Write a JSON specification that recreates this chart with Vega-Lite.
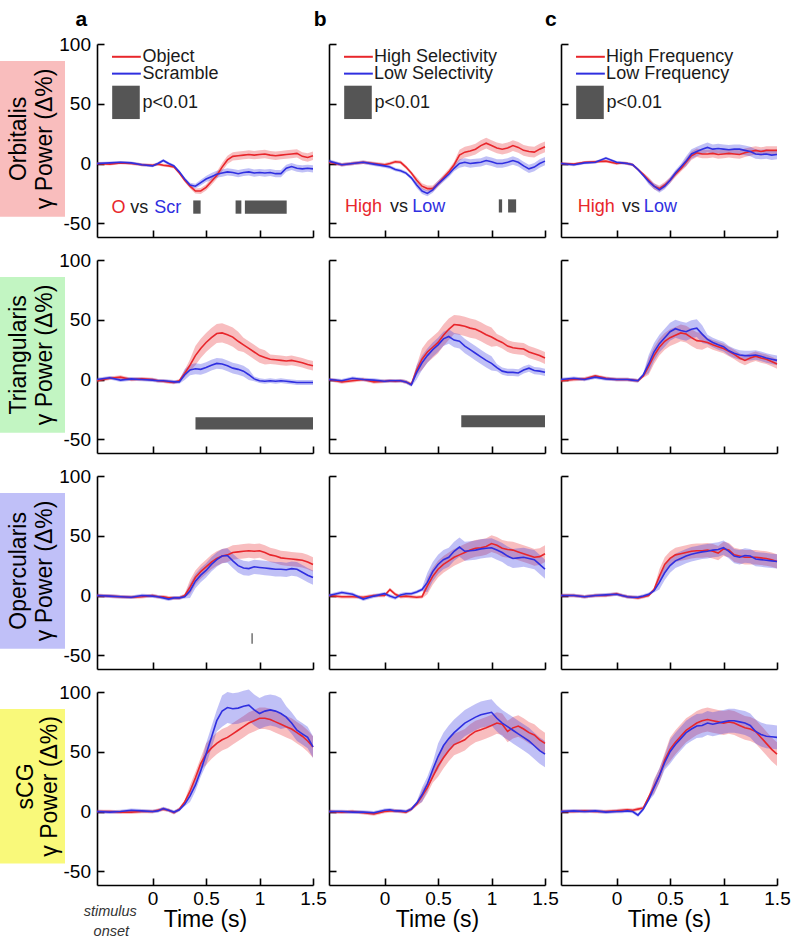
{
"$schema":"https://vega.github.io/schema/vega-lite/v6.json",
"padding":{"left":0,"top":8,"right":5,"bottom":0},
"config":{"view":{"stroke":null},"font":"Liberation Sans",
"axis":{"domainColor":"#000","domainWidth":1.6,"tickColor":"#000","tickWidth":1.6,"tickSize":-7,"labelFont":"Liberation Sans","labelFontSize":19,"labelColor":"#000","labelFlush":false,"labelOverlap":false,"labelBound":false,"titleFont":"Liberation Sans","titleFontSize":23,"titleFontWeight":"normal","titleColor":"#000","titlePadding":0,"grid":false},
"axisX":{"labelPadding":11},"axisY":{"labelPadding":13.5}},
"datasets":{
"lab":[{"r":1,"n":"Orbitalis","g":"γ Power (Δ%)"},{"r":2,"n":"Triangularis","g":"γ Power (Δ%)"},{"r":3,"n":"Opercularis","g":"γ Power (Δ%)"},{"r":4,"n":"sCG","g":"γ Power (Δ%)"}],
"sig":[
{"p":"a1","t":-0.378,"t2":-0.12,"v":37.2,"v2":65.1},{"p":"b1","t":-0.378,"t2":-0.12,"v":37.2,"v2":65.1},{"p":"c1","t":-0.378,"t2":-0.12,"v":37.2,"v2":65.1},
{"p":"a1","t":0.38,"t2":0.449,"v":-42,"v2":-30.9},{"p":"a1","t":0.776,"t2":0.83,"v":-42,"v2":-30.9},{"p":"a1","t":0.863,"t2":1.254,"v":-42,"v2":-30.9},
{"p":"b1","t":1.068,"t2":1.099,"v":-41,"v2":-30},{"p":"b1","t":1.155,"t2":1.23,"v":-41,"v2":-30},
{"p":"a2","t":0.401,"t2":1.5,"v":-41.8,"v2":-31.5},
{"p":"b2","t":0.717,"t2":1.5,"v":-40,"v2":-29.9},
{"p":"a3","t":0.924,"t2":0.937,"v":-40.4,"v2":-31.5}],
"ann":[
{"p":"a1","k":"H","s":"K","t":-0.667,"v":115.3,"txt":"a"},{"p":"b1","k":"H","s":"K","t":-0.602,"v":115.3,"txt":"b"},{"p":"c1","k":"H","s":"K","t":-0.614,"v":115.3,"txt":"c"},
{"p":"a1","k":"L","s":"R","t":-0.38,"t2":-0.11,"v":89.3},{"p":"a1","k":"L","s":"B","t":-0.38,"t2":-0.11,"v":75.2},
{"p":"b1","k":"L","s":"R","t":-0.38,"t2":-0.11,"v":89.3},{"p":"b1","k":"L","s":"B","t":-0.38,"t2":-0.11,"v":75.2},
{"p":"c1","k":"L","s":"R","t":-0.38,"t2":-0.11,"v":89.3},{"p":"c1","k":"L","s":"B","t":-0.38,"t2":-0.11,"v":75.2},
{"p":"a1","k":"T","s":"K","t":-0.095,"v":89,"txt":"Object"},{"p":"a1","k":"T","s":"K","t":-0.095,"v":74.6,"txt":"Scramble"},{"p":"a1","k":"T","s":"K","t":-0.095,"v":51,"txt":"p<0.01"},
{"p":"a1","k":"T","s":"R","t":-0.385,"v":-37.5,"txt":"O"},{"p":"a1","k":"T","s":"K","t":-0.21,"v":-37.5,"txt":"vs"},{"p":"a1","k":"T","s":"B","t":0.015,"v":-37.5,"txt":"Scr"},
{"p":"b1","k":"T","s":"K","t":-0.1,"v":89,"txt":"High Selectivity"},{"p":"b1","k":"T","s":"K","t":-0.1,"v":74.6,"txt":"Low Selectivity"},{"p":"b1","k":"T","s":"K","t":-0.095,"v":51,"txt":"p<0.01"},
{"p":"b1","k":"T","s":"R","t":-0.37,"v":-36.5,"txt":"High"},{"p":"b1","k":"T","s":"K","t":0.05,"v":-36.5,"txt":"vs"},{"p":"b1","k":"T","s":"B","t":0.258,"v":-36.5,"txt":"Low"},
{"p":"c1","k":"T","s":"K","t":-0.098,"v":89,"txt":"High Frequency"},{"p":"c1","k":"T","s":"K","t":-0.098,"v":74.6,"txt":"Low Frequency"},{"p":"c1","k":"T","s":"K","t":-0.095,"v":51,"txt":"p<0.01"},
{"p":"c1","k":"T","s":"R","t":-0.364,"v":-36.5,"txt":"High"},{"p":"c1","k":"T","s":"K","t":0.05,"v":-36.5,"txt":"vs"},{"p":"c1","k":"T","s":"B","t":0.255,"v":-36.5,"txt":"Low"},
{"p":"a4","k":"I","s":"K","t":-0.396,"v":-84.3,"txt":"stimulus"},{"p":"a4","k":"I","s":"K","t":-0.386,"v":-101,"txt":"onset"}],
"d":[
{"p":"a1","t":-0.52,"r":0,"re":1.2,"b":0,"be":1.2},{"p":"a1","t":-0.4,"r":-0.5,"re":1.2,"b":0.5,"be":1.2},{"p":"a1","t":-0.3,"r":0.5,"re":1.2,"b":1,"be":1.2},{"p":"a1","t":-0.2,"r":0,"re":1.2,"b":0.5,"be":1.2},{"p":"a1","t":-0.1,"r":-1,"re":1.2,"b":-1,"be":1.2},{"p":"a1","t":0,"r":-1.5,"re":1.2,"b":-2,"be":1.2},{"p":"a1","t":0.05,"r":-0.5,"re":1.2,"b":0,"be":1.2},{"p":"a1","t":0.1,"r":-1.5,"re":1.2,"b":2.5,"be":1.2},{"p":"a1","t":0.15,"r":-2,"re":1.2,"b":0,"be":1.2},{"p":"a1","t":0.2,"r":-3,"re":1.2,"b":-2,"be":1.2},{"p":"a1","t":0.25,"r":-8,"re":1.2,"b":-7,"be":1.2},{"p":"a1","t":0.3,"r":-14,"re":1.5,"b":-13,"be":1.5},{"p":"a1","t":0.35,"r":-19,"re":2,"b":-18,"be":2},{"p":"a1","t":0.4,"r":-23,"re":2,"b":-19,"be":2},{"p":"a1","t":0.45,"r":-23,"re":2.5,"b":-16,"be":2.5},{"p":"a1","t":0.5,"r":-20,"re":2.5,"b":-13,"be":2.5},{"p":"a1","t":0.55,"r":-15,"re":3,"b":-11,"be":3},{"p":"a1","t":0.6,"r":-10,"re":3,"b":-9,"be":3},{"p":"a1","t":0.65,"r":-3,"re":3.5,"b":-8,"be":3},{"p":"a1","t":0.7,"r":3,"re":3.5,"b":-7,"be":3},{"p":"a1","t":0.75,"r":6,"re":3.5,"b":-7.5,"be":3},{"p":"a1","t":0.8,"r":6.5,"re":3.5,"b":-8.5,"be":3},{"p":"a1","t":0.85,"r":7,"re":3.5,"b":-7.5,"be":3},{"p":"a1","t":0.9,"r":7.5,"re":3.5,"b":-7,"be":3},{"p":"a1","t":0.95,"r":7,"re":3.5,"b":-8,"be":3},{"p":"a1","t":1,"r":7.5,"re":3.5,"b":-7.5,"be":3},{"p":"a1","t":1.05,"r":8,"re":3.5,"b":-8,"be":3},{"p":"a1","t":1.1,"r":7,"re":3.5,"b":-7.5,"be":3},{"p":"a1","t":1.15,"r":6.5,"re":3.5,"b":-8.5,"be":3},{"p":"a1","t":1.2,"r":7,"re":3.5,"b":-8.5,"be":3},{"p":"a1","t":1.25,"r":7.5,"re":3.5,"b":-4,"be":3},{"p":"a1","t":1.3,"r":8,"re":3.5,"b":-2.5,"be":3},{"p":"a1","t":1.35,"r":8.5,"re":3.5,"b":-4,"be":3},{"p":"a1","t":1.4,"r":6,"re":3.5,"b":-4.5,"be":3},{"p":"a1","t":1.45,"r":5,"re":3.5,"b":-4,"be":3},{"p":"a1","t":1.5,"r":6.5,"re":3.5,"b":-4.5,"be":3},
{"p":"b1","t":-0.52,"r":1,"re":1.5,"b":2,"be":1.5},{"p":"b1","t":-0.4,"r":-1,"re":1.5,"b":-1,"be":1.5},{"p":"b1","t":-0.3,"r":0,"re":1.5,"b":0,"be":1.5},{"p":"b1","t":-0.2,"r":1,"re":1.5,"b":1,"be":1.5},{"p":"b1","t":-0.1,"r":0,"re":1.5,"b":-0.5,"be":1.5},{"p":"b1","t":0,"r":-1,"re":1.5,"b":-2,"be":1.5},{"p":"b1","t":0.05,"r":0,"re":1.5,"b":-3,"be":1.5},{"p":"b1","t":0.1,"r":1.5,"re":1.5,"b":-5,"be":1.5},{"p":"b1","t":0.15,"r":1,"re":1.5,"b":-6,"be":1.5},{"p":"b1","t":0.2,"r":-3,"re":1.5,"b":-8,"be":1.5},{"p":"b1","t":0.25,"r":-8,"re":1.5,"b":-12,"be":1.5},{"p":"b1","t":0.3,"r":-14,"re":2.5,"b":-18,"be":2.5},{"p":"b1","t":0.35,"r":-19,"re":2.5,"b":-23,"be":2.5},{"p":"b1","t":0.4,"r":-21,"re":2.5,"b":-25,"be":2.5},{"p":"b1","t":0.45,"r":-21,"re":2.5,"b":-22,"be":2.5},{"p":"b1","t":0.5,"r":-17,"re":2.5,"b":-17,"be":2.5},{"p":"b1","t":0.55,"r":-12,"re":2.5,"b":-13,"be":2.5},{"p":"b1","t":0.6,"r":-7,"re":2.5,"b":-9,"be":2.5},{"p":"b1","t":0.65,"r":-1,"re":2.5,"b":-4,"be":2.5},{"p":"b1","t":0.7,"r":7,"re":4.5,"b":0,"be":3.5},{"p":"b1","t":0.75,"r":9.5,"re":4.5,"b":1,"be":3.5},{"p":"b1","t":0.8,"r":10.5,"re":4.5,"b":0,"be":3.5},{"p":"b1","t":0.85,"r":12,"re":4.5,"b":0.5,"be":3.5},{"p":"b1","t":0.9,"r":15,"re":4.5,"b":1,"be":3.5},{"p":"b1","t":0.95,"r":17,"re":4.5,"b":2.5,"be":3.5},{"p":"b1","t":1,"r":15,"re":4.5,"b":1.5,"be":3.5},{"p":"b1","t":1.05,"r":13,"re":4.5,"b":0,"be":3.5},{"p":"b1","t":1.1,"r":12,"re":4.5,"b":0,"be":3.5},{"p":"b1","t":1.15,"r":13,"re":4.5,"b":1,"be":3.5},{"p":"b1","t":1.2,"r":15,"re":4.5,"b":2.5,"be":3.5},{"p":"b1","t":1.25,"r":13.5,"re":4.5,"b":1,"be":3.5},{"p":"b1","t":1.3,"r":11,"re":4.5,"b":-2,"be":3.5},{"p":"b1","t":1.35,"r":10,"re":4.5,"b":-4.5,"be":3.5},{"p":"b1","t":1.4,"r":9.5,"re":4.5,"b":-3,"be":3.5},{"p":"b1","t":1.45,"r":12,"re":4.5,"b":0,"be":3.5},{"p":"b1","t":1.5,"r":14,"re":4.5,"b":2,"be":3.5},
{"p":"c1","t":-0.52,"r":0,"re":1.2,"b":0,"be":1.2},{"p":"c1","t":-0.4,"r":-0.5,"re":1.2,"b":-1,"be":1.2},{"p":"c1","t":-0.3,"r":1,"re":1.2,"b":0.5,"be":1.2},{"p":"c1","t":-0.2,"r":1.5,"re":1.2,"b":1,"be":1.2},{"p":"c1","t":-0.1,"r":2,"re":1.2,"b":4.5,"be":1.2},{"p":"c1","t":0,"r":0,"re":1.2,"b":1,"be":1.2},{"p":"c1","t":0.05,"r":0.5,"re":1.2,"b":0.5,"be":1.2},{"p":"c1","t":0.1,"r":0,"re":1.2,"b":0,"be":1.2},{"p":"c1","t":0.15,"r":-1,"re":1.2,"b":-1,"be":1.2},{"p":"c1","t":0.2,"r":-5,"re":1.2,"b":-5,"be":1.2},{"p":"c1","t":0.25,"r":-9,"re":1.2,"b":-10,"be":1.2},{"p":"c1","t":0.3,"r":-14,"re":2.5,"b":-15,"be":2.5},{"p":"c1","t":0.35,"r":-19,"re":2.5,"b":-19,"be":2.5},{"p":"c1","t":0.4,"r":-21,"re":2.5,"b":-22,"be":2.5},{"p":"c1","t":0.45,"r":-18,"re":2.5,"b":-19,"be":2.5},{"p":"c1","t":0.5,"r":-14,"re":2.5,"b":-14,"be":2.5},{"p":"c1","t":0.55,"r":-9,"re":2.5,"b":-8,"be":2.5},{"p":"c1","t":0.6,"r":-4.5,"re":2.5,"b":-3,"be":2.5},{"p":"c1","t":0.65,"r":1,"re":3.5,"b":2,"be":4},{"p":"c1","t":0.7,"r":6.5,"re":3.5,"b":8,"be":4},{"p":"c1","t":0.75,"r":9,"re":3.5,"b":10,"be":4},{"p":"c1","t":0.8,"r":8,"re":3.5,"b":12,"be":4},{"p":"c1","t":0.85,"r":8,"re":3.5,"b":13.5,"be":4},{"p":"c1","t":0.9,"r":8.5,"re":3.5,"b":12,"be":4},{"p":"c1","t":0.95,"r":7.5,"re":3.5,"b":12.5,"be":4},{"p":"c1","t":1,"r":8,"re":3.5,"b":12,"be":4},{"p":"c1","t":1.05,"r":8.5,"re":3.5,"b":11.5,"be":4},{"p":"c1","t":1.1,"r":8,"re":3.5,"b":12,"be":4},{"p":"c1","t":1.15,"r":7.5,"re":3.5,"b":12,"be":4},{"p":"c1","t":1.2,"r":9,"re":3.5,"b":11,"be":4},{"p":"c1","t":1.25,"r":10,"re":3.5,"b":10,"be":4},{"p":"c1","t":1.3,"r":11,"re":3.5,"b":8,"be":4},{"p":"c1","t":1.35,"r":10,"re":3.5,"b":7.5,"be":4},{"p":"c1","t":1.4,"r":11,"re":3.5,"b":8,"be":4},{"p":"c1","t":1.45,"r":11,"re":3.5,"b":7,"be":4},{"p":"c1","t":1.5,"r":11,"re":3.5,"b":7.5,"be":4},
{"p":"a2","t":-0.52,"r":-1,"re":1.5,"b":0,"be":1.5},{"p":"a2","t":-0.4,"r":1,"re":1.5,"b":1.5,"be":1.5},{"p":"a2","t":-0.3,"r":2,"re":1.5,"b":-0.5,"be":1.5},{"p":"a2","t":-0.2,"r":0,"re":1.5,"b":0.5,"be":1.5},{"p":"a2","t":-0.1,"r":0.5,"re":1.5,"b":0,"be":1.5},{"p":"a2","t":0,"r":0,"re":1.5,"b":-0.5,"be":1.5},{"p":"a2","t":0.05,"r":-1,"re":1.5,"b":-1,"be":1.5},{"p":"a2","t":0.1,"r":-1.5,"re":1.5,"b":-1,"be":1.5},{"p":"a2","t":0.15,"r":-2,"re":1.5,"b":-1.5,"be":1.5},{"p":"a2","t":0.2,"r":-2.5,"re":1.5,"b":-2,"be":1.5},{"p":"a2","t":0.25,"r":-1,"re":1.5,"b":-2,"be":1.5},{"p":"a2","t":0.3,"r":5,"re":3,"b":4,"be":4.5},{"p":"a2","t":0.35,"r":12,"re":5,"b":8,"be":4.5},{"p":"a2","t":0.4,"r":20,"re":8,"b":9,"be":4.5},{"p":"a2","t":0.45,"r":26,"re":8,"b":8.5,"be":4.5},{"p":"a2","t":0.5,"r":31,"re":8,"b":10,"be":4.5},{"p":"a2","t":0.55,"r":35,"re":8,"b":12,"be":4.5},{"p":"a2","t":0.6,"r":38.5,"re":8,"b":13.5,"be":4.5},{"p":"a2","t":0.65,"r":39,"re":8,"b":13,"be":4.5},{"p":"a2","t":0.7,"r":37.5,"re":8,"b":11.5,"be":4.5},{"p":"a2","t":0.75,"r":35.5,"re":8,"b":9.5,"be":4.5},{"p":"a2","t":0.8,"r":32,"re":8,"b":8.5,"be":4.5},{"p":"a2","t":0.85,"r":29,"re":6,"b":7,"be":4.5},{"p":"a2","t":0.9,"r":26,"re":6,"b":4,"be":4.5},{"p":"a2","t":0.95,"r":23,"re":6,"b":0.5,"be":2},{"p":"a2","t":1,"r":20,"re":6,"b":-1,"be":2},{"p":"a2","t":1.05,"r":18.5,"re":6,"b":-1.5,"be":2},{"p":"a2","t":1.1,"r":17,"re":4,"b":-1,"be":2},{"p":"a2","t":1.15,"r":16.5,"re":4,"b":-1.5,"be":2},{"p":"a2","t":1.2,"r":16,"re":4,"b":-1,"be":2},{"p":"a2","t":1.25,"r":15.5,"re":4,"b":-1.5,"be":2},{"p":"a2","t":1.3,"r":16,"re":4,"b":-2,"be":2},{"p":"a2","t":1.35,"r":15,"re":4,"b":-2.5,"be":2},{"p":"a2","t":1.4,"r":14,"re":4,"b":-2.5,"be":2},{"p":"a2","t":1.45,"r":12.5,"re":4,"b":-2.5,"be":2},{"p":"a2","t":1.5,"r":11.5,"re":4,"b":-2.5,"be":2},
{"p":"b2","t":-0.52,"r":0,"re":1.5,"b":0,"be":1.5},{"p":"b2","t":-0.4,"r":-2,"re":1.5,"b":-1,"be":1.5},{"p":"b2","t":-0.3,"r":-1,"re":1.5,"b":1,"be":1.5},{"p":"b2","t":-0.2,"r":0,"re":1.5,"b":0,"be":1.5},{"p":"b2","t":-0.1,"r":-2,"re":1.5,"b":-0.5,"be":1.5},{"p":"b2","t":0,"r":-1.5,"re":1.5,"b":-1.5,"be":1.5},{"p":"b2","t":0.05,"r":-1,"re":1.5,"b":-1,"be":1.5},{"p":"b2","t":0.1,"r":-1.5,"re":1.5,"b":-1,"be":1.5},{"p":"b2","t":0.15,"r":-1,"re":1.5,"b":-1,"be":1.5},{"p":"b2","t":0.2,"r":-2,"re":1.5,"b":-2,"be":1.5},{"p":"b2","t":0.25,"r":-4,"re":1.5,"b":-4.5,"be":1.5},{"p":"b2","t":0.3,"r":8,"re":4,"b":6,"be":6},{"p":"b2","t":0.35,"r":17,"re":9,"b":14,"be":6},{"p":"b2","t":0.4,"r":23,"re":9,"b":20,"be":6},{"p":"b2","t":0.45,"r":27,"re":9,"b":25,"be":6},{"p":"b2","t":0.5,"r":31,"re":9,"b":29,"be":6},{"p":"b2","t":0.55,"r":37,"re":9,"b":34,"be":6},{"p":"b2","t":0.6,"r":42,"re":9,"b":36,"be":6},{"p":"b2","t":0.65,"r":46,"re":8,"b":33,"be":6},{"p":"b2","t":0.7,"r":45.5,"re":8,"b":32,"be":6},{"p":"b2","t":0.75,"r":44.5,"re":8,"b":28,"be":6},{"p":"b2","t":0.8,"r":43,"re":8,"b":25,"be":6},{"p":"b2","t":0.85,"r":42,"re":8,"b":22,"be":6},{"p":"b2","t":0.9,"r":40,"re":8,"b":19,"be":6},{"p":"b2","t":0.95,"r":37.5,"re":8,"b":16,"be":6},{"p":"b2","t":1,"r":35.5,"re":8,"b":13.5,"be":6},{"p":"b2","t":1.05,"r":33,"re":5,"b":10,"be":3},{"p":"b2","t":1.1,"r":31,"re":5,"b":7,"be":3},{"p":"b2","t":1.15,"r":28,"re":5,"b":6,"be":3},{"p":"b2","t":1.2,"r":26.5,"re":5,"b":6,"be":3},{"p":"b2","t":1.25,"r":26,"re":5,"b":5.5,"be":3},{"p":"b2","t":1.3,"r":25.5,"re":5,"b":8,"be":3},{"p":"b2","t":1.35,"r":23,"re":5,"b":9.5,"be":3},{"p":"b2","t":1.4,"r":21.5,"re":5,"b":7.5,"be":3},{"p":"b2","t":1.45,"r":20,"re":5,"b":7,"be":3},{"p":"b2","t":1.5,"r":18,"re":5,"b":6,"be":3},
{"p":"c2","t":-0.52,"r":-1,"re":1.5,"b":0,"be":1.5},{"p":"c2","t":-0.4,"r":0,"re":1.5,"b":1,"be":1.5},{"p":"c2","t":-0.3,"r":0.5,"re":1.5,"b":0,"be":1.5},{"p":"c2","t":-0.2,"r":3,"re":1.5,"b":2,"be":1.5},{"p":"c2","t":-0.1,"r":1,"re":1.5,"b":0.5,"be":1.5},{"p":"c2","t":0,"r":0,"re":1.5,"b":0,"be":1.5},{"p":"c2","t":0.05,"r":0,"re":1.5,"b":0,"be":1.5},{"p":"c2","t":0.1,"r":0,"re":1.5,"b":0,"be":1.5},{"p":"c2","t":0.15,"r":-0.5,"re":1.5,"b":-0.5,"be":1.5},{"p":"c2","t":0.2,"r":-1,"re":1.5,"b":-1,"be":1.5},{"p":"c2","t":0.25,"r":3,"re":1.5,"b":4,"be":1.5},{"p":"c2","t":0.3,"r":11,"re":7,"b":13,"be":7.5},{"p":"c2","t":0.35,"r":20,"re":7,"b":23,"be":7.5},{"p":"c2","t":0.4,"r":27,"re":7,"b":30,"be":7.5},{"p":"c2","t":0.45,"r":32,"re":7,"b":35,"be":7.5},{"p":"c2","t":0.5,"r":35,"re":7,"b":40,"be":7.5},{"p":"c2","t":0.55,"r":37,"re":7,"b":42.5,"be":7.5},{"p":"c2","t":0.6,"r":39,"re":7,"b":41,"be":7.5},{"p":"c2","t":0.65,"r":38,"re":7,"b":40,"be":7.5},{"p":"c2","t":0.7,"r":35,"re":7,"b":42,"be":7.5},{"p":"c2","t":0.75,"r":32.5,"re":7,"b":43,"be":7.5},{"p":"c2","t":0.8,"r":32,"re":7,"b":38,"be":7.5},{"p":"c2","t":0.85,"r":31,"re":4,"b":33.5,"be":4},{"p":"c2","t":0.9,"r":29,"re":4,"b":31,"be":4},{"p":"c2","t":0.95,"r":27.5,"re":4,"b":29,"be":4},{"p":"c2","t":1,"r":26,"re":4,"b":27.5,"be":4},{"p":"c2","t":1.05,"r":23.5,"re":4,"b":24,"be":4},{"p":"c2","t":1.1,"r":21,"re":4,"b":22,"be":4},{"p":"c2","t":1.15,"r":18,"re":4,"b":20.5,"be":4},{"p":"c2","t":1.2,"r":16,"re":4,"b":20,"be":4},{"p":"c2","t":1.25,"r":18,"re":4,"b":20,"be":4},{"p":"c2","t":1.3,"r":19.5,"re":4,"b":20.5,"be":4},{"p":"c2","t":1.35,"r":18,"re":4,"b":19.5,"be":4},{"p":"c2","t":1.4,"r":17,"re":4,"b":18,"be":4},{"p":"c2","t":1.45,"r":15,"re":4,"b":17,"be":4},{"p":"c2","t":1.5,"r":13,"re":4,"b":16,"be":4},
{"p":"a3","t":-0.52,"r":0,"re":1.5,"b":0,"be":1.5},{"p":"a3","t":-0.4,"r":-0.5,"re":1.5,"b":-0.5,"be":1.5},{"p":"a3","t":-0.3,"r":-1,"re":1.5,"b":-1,"be":1.5},{"p":"a3","t":-0.2,"r":-1.5,"re":1.5,"b":-1.5,"be":1.5},{"p":"a3","t":-0.1,"r":-1,"re":1.5,"b":0,"be":1.5},{"p":"a3","t":0,"r":0,"re":1.5,"b":-0.5,"be":1.5},{"p":"a3","t":0.05,"r":-1,"re":1.5,"b":-1,"be":1.5},{"p":"a3","t":0.1,"r":-1,"re":1.5,"b":-2,"be":1.5},{"p":"a3","t":0.15,"r":-2,"re":1.5,"b":-3,"be":1.5},{"p":"a3","t":0.2,"r":-2,"re":1.5,"b":-2,"be":1.5},{"p":"a3","t":0.25,"r":-2,"re":1.5,"b":-2,"be":1.5},{"p":"a3","t":0.3,"r":0,"re":1.5,"b":-1,"be":1.5},{"p":"a3","t":0.35,"r":7,"re":6,"b":4,"be":6},{"p":"a3","t":0.4,"r":15,"re":6,"b":12,"be":6},{"p":"a3","t":0.45,"r":20,"re":6,"b":17,"be":6},{"p":"a3","t":0.5,"r":24,"re":6,"b":21,"be":6},{"p":"a3","t":0.55,"r":28,"re":6,"b":26,"be":6},{"p":"a3","t":0.6,"r":31,"re":6,"b":30,"be":6},{"p":"a3","t":0.65,"r":33,"re":6,"b":33,"be":6},{"p":"a3","t":0.7,"r":34,"re":6,"b":33.5,"be":6},{"p":"a3","t":0.75,"r":36,"re":6,"b":29,"be":6},{"p":"a3","t":0.8,"r":36.5,"re":6,"b":25,"be":6},{"p":"a3","t":0.85,"r":37,"re":6,"b":23,"be":6},{"p":"a3","t":0.9,"r":37.5,"re":6,"b":22.5,"be":6},{"p":"a3","t":0.95,"r":37,"re":6,"b":24,"be":6},{"p":"a3","t":1,"r":37.5,"re":6,"b":23.5,"be":6},{"p":"a3","t":1.05,"r":36,"re":6,"b":23,"be":6},{"p":"a3","t":1.1,"r":34,"re":6,"b":22.5,"be":6},{"p":"a3","t":1.15,"r":33,"re":6,"b":22,"be":6},{"p":"a3","t":1.2,"r":31.5,"re":6,"b":22,"be":6},{"p":"a3","t":1.25,"r":31,"re":6,"b":21.5,"be":6},{"p":"a3","t":1.3,"r":30.5,"re":6,"b":22.5,"be":6},{"p":"a3","t":1.35,"r":30,"re":6,"b":22,"be":6},{"p":"a3","t":1.4,"r":29.5,"re":6,"b":19.5,"be":6},{"p":"a3","t":1.45,"r":28,"re":6,"b":17,"be":6},{"p":"a3","t":1.5,"r":26,"re":6,"b":15,"be":6},
{"p":"b3","t":-0.52,"r":0,"re":1.5,"b":0,"be":1.5},{"p":"b3","t":-0.4,"r":-1,"re":1.5,"b":2.5,"be":1.5},{"p":"b3","t":-0.3,"r":-1,"re":1.5,"b":1,"be":1.5},{"p":"b3","t":-0.2,"r":-1.5,"re":1.5,"b":-3,"be":1.5},{"p":"b3","t":-0.1,"r":0,"re":1.5,"b":-0.5,"be":1.5},{"p":"b3","t":0,"r":0,"re":1.5,"b":1.5,"be":1.5},{"p":"b3","t":0.05,"r":5,"re":1.5,"b":-0.5,"be":1.5},{"p":"b3","t":0.1,"r":1,"re":1.5,"b":-2,"be":1.5},{"p":"b3","t":0.15,"r":-1,"re":1.5,"b":0.5,"be":1.5},{"p":"b3","t":0.2,"r":-0.5,"re":1.5,"b":1.5,"be":1.5},{"p":"b3","t":0.25,"r":-1,"re":1.5,"b":1.5,"be":1.5},{"p":"b3","t":0.3,"r":-1.5,"re":1.5,"b":3,"be":1.5},{"p":"b3","t":0.35,"r":-1,"re":1.5,"b":5,"be":1.5},{"p":"b3","t":0.4,"r":8,"re":7,"b":11,"be":8},{"p":"b3","t":0.45,"r":16,"re":7,"b":20,"be":8},{"p":"b3","t":0.5,"r":22,"re":7,"b":26,"be":8},{"p":"b3","t":0.55,"r":26,"re":7,"b":30,"be":8},{"p":"b3","t":0.6,"r":29,"re":7,"b":32,"be":8},{"p":"b3","t":0.65,"r":32,"re":7,"b":37,"be":8},{"p":"b3","t":0.7,"r":34,"re":7,"b":40.5,"be":8},{"p":"b3","t":0.75,"r":36,"re":7,"b":37,"be":8},{"p":"b3","t":0.8,"r":38,"re":7,"b":37.5,"be":8},{"p":"b3","t":0.85,"r":39.5,"re":7,"b":38,"be":8},{"p":"b3","t":0.9,"r":40,"re":7,"b":39,"be":8},{"p":"b3","t":0.95,"r":41,"re":7,"b":39.5,"be":8},{"p":"b3","t":1,"r":43.5,"re":7,"b":40,"be":8},{"p":"b3","t":1.05,"r":42,"re":7,"b":38,"be":8},{"p":"b3","t":1.1,"r":39.5,"re":7,"b":36,"be":8},{"p":"b3","t":1.15,"r":38.5,"re":7,"b":33,"be":8},{"p":"b3","t":1.2,"r":38,"re":7,"b":31,"be":8},{"p":"b3","t":1.25,"r":36.5,"re":7,"b":31.5,"be":8},{"p":"b3","t":1.3,"r":35,"re":7,"b":32,"be":8},{"p":"b3","t":1.35,"r":33.5,"re":7,"b":31,"be":8},{"p":"b3","t":1.4,"r":32,"re":7,"b":30,"be":8},{"p":"b3","t":1.45,"r":32.5,"re":7,"b":26,"be":8},{"p":"b3","t":1.5,"r":35,"re":7,"b":22,"be":8},
{"p":"c3","t":-0.52,"r":0,"re":1.5,"b":0,"be":1.5},{"p":"c3","t":-0.4,"r":0,"re":1.5,"b":0,"be":1.5},{"p":"c3","t":-0.3,"r":-1,"re":1.5,"b":-1,"be":1.5},{"p":"c3","t":-0.2,"r":0,"re":1.5,"b":0,"be":1.5},{"p":"c3","t":-0.1,"r":0,"re":1.5,"b":0.5,"be":1.5},{"p":"c3","t":0,"r":1.5,"re":1.5,"b":1,"be":1.5},{"p":"c3","t":0.05,"r":0,"re":1.5,"b":0,"be":1.5},{"p":"c3","t":0.1,"r":-1,"re":1.5,"b":-1,"be":1.5},{"p":"c3","t":0.15,"r":-1.5,"re":1.5,"b":-1.5,"be":1.5},{"p":"c3","t":0.2,"r":-2,"re":1.5,"b":-1.5,"be":1.5},{"p":"c3","t":0.25,"r":-1,"re":1.5,"b":-0.5,"be":1.5},{"p":"c3","t":0.3,"r":0,"re":1.5,"b":1,"be":1.5},{"p":"c3","t":0.35,"r":5,"re":1.5,"b":4,"be":1.5},{"p":"c3","t":0.4,"r":16,"re":6,"b":11,"be":6},{"p":"c3","t":0.45,"r":26,"re":6,"b":19,"be":6},{"p":"c3","t":0.5,"r":31,"re":6,"b":25,"be":6},{"p":"c3","t":0.55,"r":34,"re":6,"b":29,"be":6},{"p":"c3","t":0.6,"r":35,"re":6,"b":31,"be":6},{"p":"c3","t":0.65,"r":36,"re":6,"b":33,"be":6},{"p":"c3","t":0.7,"r":37,"re":6,"b":34.5,"be":6},{"p":"c3","t":0.75,"r":37.5,"re":6,"b":35.5,"be":6},{"p":"c3","t":0.8,"r":37.5,"re":6,"b":36.5,"be":6},{"p":"c3","t":0.85,"r":38,"re":6,"b":37,"be":6},{"p":"c3","t":0.9,"r":37,"re":6,"b":38,"be":6},{"p":"c3","t":0.95,"r":35.5,"re":6,"b":38.5,"be":6},{"p":"c3","t":1,"r":39,"re":6,"b":40,"be":6},{"p":"c3","t":1.05,"r":38,"re":6,"b":37,"be":6},{"p":"c3","t":1.1,"r":34,"re":6,"b":33,"be":6},{"p":"c3","t":1.15,"r":33,"re":6,"b":32,"be":6},{"p":"c3","t":1.2,"r":32,"re":6,"b":33.5,"be":6},{"p":"c3","t":1.25,"r":32,"re":6,"b":33,"be":6},{"p":"c3","t":1.3,"r":32,"re":6,"b":30.5,"be":6},{"p":"c3","t":1.35,"r":31.5,"re":6,"b":30,"be":6},{"p":"c3","t":1.4,"r":31,"re":6,"b":29.5,"be":6},{"p":"c3","t":1.45,"r":30,"re":6,"b":29,"be":6},{"p":"c3","t":1.5,"r":28.5,"re":6,"b":28.5,"be":6},
{"p":"a4","t":-0.52,"r":0,"re":1.5,"b":0,"be":1.5},{"p":"a4","t":-0.4,"r":0,"re":1.5,"b":-0.5,"be":1.5},{"p":"a4","t":-0.3,"r":-0.5,"re":1.5,"b":0,"be":1.5},{"p":"a4","t":-0.2,"r":-0.5,"re":1.5,"b":1,"be":1.5},{"p":"a4","t":-0.1,"r":0,"re":1.5,"b":0.5,"be":1.5},{"p":"a4","t":0,"r":0,"re":1.5,"b":0,"be":1.5},{"p":"a4","t":0.05,"r":1,"re":1.5,"b":0.5,"be":1.5},{"p":"a4","t":0.1,"r":2,"re":1.5,"b":2.5,"be":1.5},{"p":"a4","t":0.15,"r":1,"re":1.5,"b":1,"be":1.5},{"p":"a4","t":0.2,"r":-1,"re":1.5,"b":-0.5,"be":1.5},{"p":"a4","t":0.25,"r":2,"re":1.5,"b":1.5,"be":1.5},{"p":"a4","t":0.3,"r":8,"re":1.5,"b":6,"be":1.5},{"p":"a4","t":0.35,"r":17,"re":5,"b":13,"be":5},{"p":"a4","t":0.4,"r":28,"re":5,"b":22,"be":5},{"p":"a4","t":0.45,"r":40,"re":5,"b":34,"be":5},{"p":"a4","t":0.5,"r":48,"re":9,"b":48,"be":9},{"p":"a4","t":0.55,"r":53,"re":9,"b":62,"be":9},{"p":"a4","t":0.6,"r":57,"re":9,"b":76,"be":9},{"p":"a4","t":0.65,"r":60,"re":9,"b":84,"be":13},{"p":"a4","t":0.7,"r":62,"re":9,"b":87,"be":13},{"p":"a4","t":0.75,"r":65,"re":9,"b":86,"be":13},{"p":"a4","t":0.8,"r":68,"re":9,"b":86.5,"be":13},{"p":"a4","t":0.85,"r":71,"re":9,"b":88,"be":13},{"p":"a4","t":0.9,"r":74,"re":9,"b":89,"be":13},{"p":"a4","t":0.95,"r":76,"re":9,"b":85,"be":13},{"p":"a4","t":1,"r":78,"re":9,"b":82,"be":13},{"p":"a4","t":1.05,"r":78,"re":9,"b":84,"be":13},{"p":"a4","t":1.1,"r":77,"re":9,"b":85,"be":13},{"p":"a4","t":1.15,"r":75,"re":9,"b":84,"be":13},{"p":"a4","t":1.2,"r":73,"re":9,"b":82,"be":13},{"p":"a4","t":1.25,"r":71,"re":9,"b":79,"be":9},{"p":"a4","t":1.3,"r":69,"re":9,"b":74,"be":9},{"p":"a4","t":1.35,"r":66,"re":9,"b":68,"be":9},{"p":"a4","t":1.4,"r":63,"re":9,"b":65,"be":9},{"p":"a4","t":1.45,"r":59,"re":9,"b":62,"be":9},{"p":"a4","t":1.5,"r":54,"re":9,"b":54,"be":9},
{"p":"b4","t":-0.52,"r":0,"re":1.5,"b":0,"be":1.5},{"p":"b4","t":-0.4,"r":-0.5,"re":1.5,"b":0,"be":1.5},{"p":"b4","t":-0.3,"r":0,"re":1.5,"b":-0.5,"be":1.5},{"p":"b4","t":-0.2,"r":-1,"re":1.5,"b":-0.5,"be":1.5},{"p":"b4","t":-0.1,"r":-2,"re":1.5,"b":-1,"be":1.5},{"p":"b4","t":0,"r":0,"re":1.5,"b":1,"be":1.5},{"p":"b4","t":0.05,"r":0.5,"re":1.5,"b":1.5,"be":1.5},{"p":"b4","t":0.1,"r":0.5,"re":1.5,"b":0.5,"be":1.5},{"p":"b4","t":0.15,"r":0,"re":1.5,"b":0.5,"be":1.5},{"p":"b4","t":0.2,"r":-0.5,"re":1.5,"b":0,"be":1.5},{"p":"b4","t":0.25,"r":2,"re":1.5,"b":2,"be":1.5},{"p":"b4","t":0.3,"r":6,"re":1.5,"b":7,"be":1.5},{"p":"b4","t":0.35,"r":13,"re":5,"b":14,"be":6},{"p":"b4","t":0.4,"r":20,"re":5,"b":23,"be":6},{"p":"b4","t":0.45,"r":29,"re":5,"b":35,"be":6},{"p":"b4","t":0.5,"r":38,"re":9,"b":46,"be":11},{"p":"b4","t":0.55,"r":45,"re":9,"b":55,"be":11},{"p":"b4","t":0.6,"r":51,"re":9,"b":61,"be":11},{"p":"b4","t":0.65,"r":56,"re":9,"b":66,"be":11},{"p":"b4","t":0.7,"r":58,"re":9,"b":70,"be":11},{"p":"b4","t":0.75,"r":60,"re":9,"b":74,"be":11},{"p":"b4","t":0.8,"r":64,"re":9,"b":76.5,"be":11},{"p":"b4","t":0.85,"r":67,"re":9,"b":79,"be":11},{"p":"b4","t":0.9,"r":68.5,"re":9,"b":81,"be":11},{"p":"b4","t":0.95,"r":70,"re":9,"b":82,"be":11},{"p":"b4","t":1,"r":72,"re":9,"b":83,"be":11},{"p":"b4","t":1.05,"r":74,"re":9,"b":78,"be":11},{"p":"b4","t":1.1,"r":73,"re":9,"b":74,"be":11},{"p":"b4","t":1.15,"r":67,"re":9,"b":71,"be":11},{"p":"b4","t":1.2,"r":70,"re":9,"b":68,"be":11},{"p":"b4","t":1.25,"r":71.5,"re":9,"b":65,"be":11},{"p":"b4","t":1.3,"r":69,"re":9,"b":62,"be":11},{"p":"b4","t":1.35,"r":66,"re":9,"b":59,"be":11},{"p":"b4","t":1.4,"r":64,"re":9,"b":55,"be":11},{"p":"b4","t":1.45,"r":60,"re":9,"b":51,"be":11},{"p":"b4","t":1.5,"r":57,"re":9,"b":48,"be":11},
{"p":"c4","t":-0.52,"r":0,"re":1.5,"b":0,"be":1.5},{"p":"c4","t":-0.4,"r":0,"re":1.5,"b":0.5,"be":1.5},{"p":"c4","t":-0.3,"r":0.5,"re":1.5,"b":0,"be":1.5},{"p":"c4","t":-0.2,"r":0,"re":1.5,"b":0.5,"be":1.5},{"p":"c4","t":-0.1,"r":0,"re":1.5,"b":-0.5,"be":1.5},{"p":"c4","t":0,"r":0.5,"re":1.5,"b":0,"be":1.5},{"p":"c4","t":0.05,"r":1,"re":1.5,"b":0,"be":1.5},{"p":"c4","t":0.1,"r":1.5,"re":1.5,"b":0.5,"be":1.5},{"p":"c4","t":0.15,"r":1,"re":1.5,"b":0,"be":1.5},{"p":"c4","t":0.2,"r":2,"re":1.5,"b":-3,"be":1.5},{"p":"c4","t":0.25,"r":3,"re":1.5,"b":2,"be":1.5},{"p":"c4","t":0.3,"r":12,"re":1.5,"b":10,"be":1.5},{"p":"c4","t":0.35,"r":21,"re":6,"b":20,"be":6},{"p":"c4","t":0.4,"r":30,"re":6,"b":30,"be":6},{"p":"c4","t":0.45,"r":43,"re":6,"b":41,"be":6},{"p":"c4","t":0.5,"r":52,"re":10,"b":50,"be":10},{"p":"c4","t":0.55,"r":58,"re":10,"b":56,"be":10},{"p":"c4","t":0.6,"r":63,"re":10,"b":61,"be":10},{"p":"c4","t":0.65,"r":68,"re":10,"b":66,"be":10},{"p":"c4","t":0.7,"r":71,"re":10,"b":69,"be":10},{"p":"c4","t":0.75,"r":74,"re":10,"b":71.5,"be":10},{"p":"c4","t":0.8,"r":76,"re":10,"b":72,"be":10},{"p":"c4","t":0.85,"r":77,"re":10,"b":74,"be":10},{"p":"c4","t":0.9,"r":76,"re":10,"b":73,"be":10},{"p":"c4","t":0.95,"r":75,"re":10,"b":74,"be":10},{"p":"c4","t":1,"r":74,"re":10,"b":75,"be":10},{"p":"c4","t":1.05,"r":75,"re":10,"b":76,"be":10},{"p":"c4","t":1.1,"r":74,"re":10,"b":76,"be":10},{"p":"c4","t":1.15,"r":72,"re":10,"b":75,"be":10},{"p":"c4","t":1.2,"r":70,"re":10,"b":74,"be":10},{"p":"c4","t":1.25,"r":69,"re":10,"b":72,"be":10},{"p":"c4","t":1.3,"r":67,"re":10,"b":67,"be":10},{"p":"c4","t":1.35,"r":62,"re":10,"b":64.5,"be":10},{"p":"c4","t":1.4,"r":57,"re":10,"b":63,"be":10},{"p":"c4","t":1.45,"r":52,"re":10,"b":62.5,"be":10},{"p":"c4","t":1.5,"r":48,"re":10,"b":62,"be":10}
]},
"columns":4,
"spacing":{"row":23,"column":16},
"bounds":"flush",
"align":"each",
"concat":[
{"width":81,"height":193,"data":{"name":"lab"},"transform":[{"filter":"datum.r==1"}],"layer":[
{"mark":{"type":"rect","color":"#f9bdbd"},"encoding":{"x":{"datum":0,"type":"quantitative","scale":{"domain":[0,81],"nice":false,"zero":false},"axis":null},"x2":{"datum":65},"y":{"datum":-44.5,"type":"quantitative","scale":{"domain":[-61.5,100],"nice":false,"zero":false},"axis":null},"y2":{"datum":85.8}}},
{"mark":{"type":"text","angle":270,"fontSize":23,"align":"center","baseline":"middle","color":"#000"},"encoding":{"x":{"datum":19,"type":"quantitative","axis":null},"y":{"datum":20.6,"type":"quantitative","axis":null},"text":{"field":"n"}}},
{"mark":{"type":"text","angle":270,"fontSize":23,"align":"center","baseline":"middle","color":"#000"},"encoding":{"x":{"datum":45,"type":"quantitative","axis":null},"y":{"datum":20.6,"type":"quantitative","axis":null},"text":{"field":"g"}}}]},
{"width":216,"height":193,"layer":[
{"data":{"name":"d"},"transform":[{"filter":"datum.p=='a1'"}],"encoding":{"x":{"field":"t","type":"quantitative","scale":{"domain":[-0.52,1.5],"nice":false,"zero":false},"axis":{"values":[0,0.5,1,1.5],"title":null,"labels":false}}},"layer":[
{"mark":{"type":"errorband","color":"#e8262b","band":{"opacity":0.3}},"encoding":{"y":{"field":"r","type":"quantitative","scale":{"domain":[-61.5,100],"nice":false,"zero":false}},"yError":{"field":"re"}}},
{"mark":{"type":"errorband","color":"#2f2fe0","band":{"opacity":0.3}},"encoding":{"y":{"field":"b","type":"quantitative"},"yError":{"field":"be"}}},
{"mark":{"type":"line","color":"#e8262b","strokeWidth":1.6},"encoding":{"y":{"field":"r","type":"quantitative","axis":{"values":[-50,-25,0,25,50,75,100],"title":null,"labelExpr":"''+datum.value"}}}},
{"mark":{"type":"line","color":"#2f2fe0","strokeWidth":1.6},"encoding":{"y":{"field":"b","type":"quantitative"}}}]},
{"data":{"name":"sig"},"transform":[{"filter":"datum.p=='a1'"}],"mark":{"type":"rect","color":"#555555"},"encoding":{"x":{"field":"t","type":"quantitative"},"x2":{"field":"t2"},"y":{"field":"v","type":"quantitative"},"y2":{"field":"v2"}}},
{"data":{"name":"ann"},"transform":[{"filter":"datum.p=='a1' && datum.k=='L'"}],"mark":{"type":"rule","strokeWidth":2},"encoding":{"x":{"field":"t","type":"quantitative"},"x2":{"field":"t2"},"y":{"field":"v","type":"quantitative"},"color":{"field":"s","type":"nominal","scale":{"domain":["R","B","K"],"range":["#e8262b","#2f2fe0","#1a1a1a"]},"legend":null}}},
{"data":{"name":"ann"},"transform":[{"filter":"datum.p=='a1' && datum.k=='T'"}],"mark":{"type":"text","align":"left","baseline":"middle","fontSize":18},"encoding":{"x":{"field":"t","type":"quantitative"},"y":{"field":"v","type":"quantitative"},"text":{"field":"txt"},"color":{"field":"s","type":"nominal","scale":{"domain":["R","B","K"],"range":["#e8262b","#2f2fe0","#1a1a1a"]},"legend":null}}},
{"data":{"name":"ann"},"transform":[{"filter":"datum.p=='a1' && datum.k=='H'"}],"mark":{"type":"text","align":"center","baseline":"alphabetic","fontSize":21,"fontWeight":"bold","color":"#000"},"encoding":{"x":{"field":"t","type":"quantitative"},"y":{"field":"v","type":"quantitative"},"text":{"field":"txt"}}}]},
{"width":216,"height":193,"layer":[
{"data":{"name":"d"},"transform":[{"filter":"datum.p=='b1'"}],"encoding":{"x":{"field":"t","type":"quantitative","scale":{"domain":[-0.52,1.5],"nice":false,"zero":false},"axis":{"values":[0,0.5,1,1.5],"title":null,"labels":false}}},"layer":[
{"mark":{"type":"errorband","color":"#e8262b","band":{"opacity":0.3}},"encoding":{"y":{"field":"r","type":"quantitative","scale":{"domain":[-61.5,100],"nice":false,"zero":false}},"yError":{"field":"re"}}},
{"mark":{"type":"errorband","color":"#2f2fe0","band":{"opacity":0.3}},"encoding":{"y":{"field":"b","type":"quantitative"},"yError":{"field":"be"}}},
{"mark":{"type":"line","color":"#e8262b","strokeWidth":1.6},"encoding":{"y":{"field":"r","type":"quantitative","axis":{"values":[-50,-25,0,25,50,75,100],"title":null,"labels":false}}}},
{"mark":{"type":"line","color":"#2f2fe0","strokeWidth":1.6},"encoding":{"y":{"field":"b","type":"quantitative"}}}]},
{"data":{"name":"sig"},"transform":[{"filter":"datum.p=='b1'"}],"mark":{"type":"rect","color":"#555555"},"encoding":{"x":{"field":"t","type":"quantitative"},"x2":{"field":"t2"},"y":{"field":"v","type":"quantitative"},"y2":{"field":"v2"}}},
{"data":{"name":"ann"},"transform":[{"filter":"datum.p=='b1' && datum.k=='L'"}],"mark":{"type":"rule","strokeWidth":2},"encoding":{"x":{"field":"t","type":"quantitative"},"x2":{"field":"t2"},"y":{"field":"v","type":"quantitative"},"color":{"field":"s","type":"nominal","scale":{"domain":["R","B","K"],"range":["#e8262b","#2f2fe0","#1a1a1a"]},"legend":null}}},
{"data":{"name":"ann"},"transform":[{"filter":"datum.p=='b1' && datum.k=='T'"}],"mark":{"type":"text","align":"left","baseline":"middle","fontSize":18},"encoding":{"x":{"field":"t","type":"quantitative"},"y":{"field":"v","type":"quantitative"},"text":{"field":"txt"},"color":{"field":"s","type":"nominal","scale":{"domain":["R","B","K"],"range":["#e8262b","#2f2fe0","#1a1a1a"]},"legend":null}}},
{"data":{"name":"ann"},"transform":[{"filter":"datum.p=='b1' && datum.k=='H'"}],"mark":{"type":"text","align":"center","baseline":"alphabetic","fontSize":21,"fontWeight":"bold","color":"#000"},"encoding":{"x":{"field":"t","type":"quantitative"},"y":{"field":"v","type":"quantitative"},"text":{"field":"txt"}}}]},
{"width":216,"height":193,"layer":[
{"data":{"name":"d"},"transform":[{"filter":"datum.p=='c1'"}],"encoding":{"x":{"field":"t","type":"quantitative","scale":{"domain":[-0.52,1.5],"nice":false,"zero":false},"axis":{"values":[0,0.5,1,1.5],"title":null,"labels":false}}},"layer":[
{"mark":{"type":"errorband","color":"#e8262b","band":{"opacity":0.3}},"encoding":{"y":{"field":"r","type":"quantitative","scale":{"domain":[-61.5,100],"nice":false,"zero":false}},"yError":{"field":"re"}}},
{"mark":{"type":"errorband","color":"#2f2fe0","band":{"opacity":0.3}},"encoding":{"y":{"field":"b","type":"quantitative"},"yError":{"field":"be"}}},
{"mark":{"type":"line","color":"#e8262b","strokeWidth":1.6},"encoding":{"y":{"field":"r","type":"quantitative","axis":{"values":[-50,-25,0,25,50,75,100],"title":null,"labels":false}}}},
{"mark":{"type":"line","color":"#2f2fe0","strokeWidth":1.6},"encoding":{"y":{"field":"b","type":"quantitative"}}}]},
{"data":{"name":"sig"},"transform":[{"filter":"datum.p=='c1'"}],"mark":{"type":"rect","color":"#555555"},"encoding":{"x":{"field":"t","type":"quantitative"},"x2":{"field":"t2"},"y":{"field":"v","type":"quantitative"},"y2":{"field":"v2"}}},
{"data":{"name":"ann"},"transform":[{"filter":"datum.p=='c1' && datum.k=='L'"}],"mark":{"type":"rule","strokeWidth":2},"encoding":{"x":{"field":"t","type":"quantitative"},"x2":{"field":"t2"},"y":{"field":"v","type":"quantitative"},"color":{"field":"s","type":"nominal","scale":{"domain":["R","B","K"],"range":["#e8262b","#2f2fe0","#1a1a1a"]},"legend":null}}},
{"data":{"name":"ann"},"transform":[{"filter":"datum.p=='c1' && datum.k=='T'"}],"mark":{"type":"text","align":"left","baseline":"middle","fontSize":18},"encoding":{"x":{"field":"t","type":"quantitative"},"y":{"field":"v","type":"quantitative"},"text":{"field":"txt"},"color":{"field":"s","type":"nominal","scale":{"domain":["R","B","K"],"range":["#e8262b","#2f2fe0","#1a1a1a"]},"legend":null}}},
{"data":{"name":"ann"},"transform":[{"filter":"datum.p=='c1' && datum.k=='H'"}],"mark":{"type":"text","align":"center","baseline":"alphabetic","fontSize":21,"fontWeight":"bold","color":"#000"},"encoding":{"x":{"field":"t","type":"quantitative"},"y":{"field":"v","type":"quantitative"},"text":{"field":"txt"}}}]},
{"width":81,"height":193,"data":{"name":"lab"},"transform":[{"filter":"datum.r==2"}],"layer":[
{"mark":{"type":"rect","color":"#c2f5c2"},"encoding":{"x":{"datum":0,"type":"quantitative","scale":{"domain":[0,81],"nice":false,"zero":false},"axis":null},"x2":{"datum":65},"y":{"datum":-44.5,"type":"quantitative","scale":{"domain":[-61.5,100],"nice":false,"zero":false},"axis":null},"y2":{"datum":85.8}}},
{"mark":{"type":"text","angle":270,"fontSize":23,"align":"center","baseline":"middle","color":"#000"},"encoding":{"x":{"datum":19,"type":"quantitative","axis":null},"y":{"datum":20.6,"type":"quantitative","axis":null},"text":{"field":"n"}}},
{"mark":{"type":"text","angle":270,"fontSize":23,"align":"center","baseline":"middle","color":"#000"},"encoding":{"x":{"datum":45,"type":"quantitative","axis":null},"y":{"datum":20.6,"type":"quantitative","axis":null},"text":{"field":"g"}}}]},
{"width":216,"height":193,"layer":[
{"data":{"name":"d"},"transform":[{"filter":"datum.p=='a2'"}],"encoding":{"x":{"field":"t","type":"quantitative","scale":{"domain":[-0.52,1.5],"nice":false,"zero":false},"axis":{"values":[0,0.5,1,1.5],"title":null,"labels":false}}},"layer":[
{"mark":{"type":"errorband","color":"#e8262b","band":{"opacity":0.3}},"encoding":{"y":{"field":"r","type":"quantitative","scale":{"domain":[-61.5,100],"nice":false,"zero":false}},"yError":{"field":"re"}}},
{"mark":{"type":"errorband","color":"#2f2fe0","band":{"opacity":0.3}},"encoding":{"y":{"field":"b","type":"quantitative"},"yError":{"field":"be"}}},
{"mark":{"type":"line","color":"#e8262b","strokeWidth":1.6},"encoding":{"y":{"field":"r","type":"quantitative","axis":{"values":[-50,-25,0,25,50,75,100],"title":null,"labelExpr":"''+datum.value"}}}},
{"mark":{"type":"line","color":"#2f2fe0","strokeWidth":1.6},"encoding":{"y":{"field":"b","type":"quantitative"}}}]},
{"data":{"name":"sig"},"transform":[{"filter":"datum.p=='a2'"}],"mark":{"type":"rect","color":"#555555"},"encoding":{"x":{"field":"t","type":"quantitative"},"x2":{"field":"t2"},"y":{"field":"v","type":"quantitative"},"y2":{"field":"v2"}}}]},
{"width":216,"height":193,"layer":[
{"data":{"name":"d"},"transform":[{"filter":"datum.p=='b2'"}],"encoding":{"x":{"field":"t","type":"quantitative","scale":{"domain":[-0.52,1.5],"nice":false,"zero":false},"axis":{"values":[0,0.5,1,1.5],"title":null,"labels":false}}},"layer":[
{"mark":{"type":"errorband","color":"#e8262b","band":{"opacity":0.3}},"encoding":{"y":{"field":"r","type":"quantitative","scale":{"domain":[-61.5,100],"nice":false,"zero":false}},"yError":{"field":"re"}}},
{"mark":{"type":"errorband","color":"#2f2fe0","band":{"opacity":0.3}},"encoding":{"y":{"field":"b","type":"quantitative"},"yError":{"field":"be"}}},
{"mark":{"type":"line","color":"#e8262b","strokeWidth":1.6},"encoding":{"y":{"field":"r","type":"quantitative","axis":{"values":[-50,-25,0,25,50,75,100],"title":null,"labels":false}}}},
{"mark":{"type":"line","color":"#2f2fe0","strokeWidth":1.6},"encoding":{"y":{"field":"b","type":"quantitative"}}}]},
{"data":{"name":"sig"},"transform":[{"filter":"datum.p=='b2'"}],"mark":{"type":"rect","color":"#555555"},"encoding":{"x":{"field":"t","type":"quantitative"},"x2":{"field":"t2"},"y":{"field":"v","type":"quantitative"},"y2":{"field":"v2"}}}]},
{"width":216,"height":193,"layer":[
{"data":{"name":"d"},"transform":[{"filter":"datum.p=='c2'"}],"encoding":{"x":{"field":"t","type":"quantitative","scale":{"domain":[-0.52,1.5],"nice":false,"zero":false},"axis":{"values":[0,0.5,1,1.5],"title":null,"labels":false}}},"layer":[
{"mark":{"type":"errorband","color":"#e8262b","band":{"opacity":0.3}},"encoding":{"y":{"field":"r","type":"quantitative","scale":{"domain":[-61.5,100],"nice":false,"zero":false}},"yError":{"field":"re"}}},
{"mark":{"type":"errorband","color":"#2f2fe0","band":{"opacity":0.3}},"encoding":{"y":{"field":"b","type":"quantitative"},"yError":{"field":"be"}}},
{"mark":{"type":"line","color":"#e8262b","strokeWidth":1.6},"encoding":{"y":{"field":"r","type":"quantitative","axis":{"values":[-50,-25,0,25,50,75,100],"title":null,"labels":false}}}},
{"mark":{"type":"line","color":"#2f2fe0","strokeWidth":1.6},"encoding":{"y":{"field":"b","type":"quantitative"}}}]}]},
{"width":81,"height":193,"data":{"name":"lab"},"transform":[{"filter":"datum.r==3"}],"layer":[
{"mark":{"type":"rect","color":"#c0c0f8"},"encoding":{"x":{"datum":0,"type":"quantitative","scale":{"domain":[0,81],"nice":false,"zero":false},"axis":null},"x2":{"datum":65},"y":{"datum":-44.5,"type":"quantitative","scale":{"domain":[-61.5,100],"nice":false,"zero":false},"axis":null},"y2":{"datum":85.8}}},
{"mark":{"type":"text","angle":270,"fontSize":23,"align":"center","baseline":"middle","color":"#000"},"encoding":{"x":{"datum":19,"type":"quantitative","axis":null},"y":{"datum":20.6,"type":"quantitative","axis":null},"text":{"field":"n"}}},
{"mark":{"type":"text","angle":270,"fontSize":23,"align":"center","baseline":"middle","color":"#000"},"encoding":{"x":{"datum":45,"type":"quantitative","axis":null},"y":{"datum":20.6,"type":"quantitative","axis":null},"text":{"field":"g"}}}]},
{"width":216,"height":193,"layer":[
{"data":{"name":"d"},"transform":[{"filter":"datum.p=='a3'"}],"encoding":{"x":{"field":"t","type":"quantitative","scale":{"domain":[-0.52,1.5],"nice":false,"zero":false},"axis":{"values":[0,0.5,1,1.5],"title":null,"labels":false}}},"layer":[
{"mark":{"type":"errorband","color":"#e8262b","band":{"opacity":0.3}},"encoding":{"y":{"field":"r","type":"quantitative","scale":{"domain":[-61.5,100],"nice":false,"zero":false}},"yError":{"field":"re"}}},
{"mark":{"type":"errorband","color":"#2f2fe0","band":{"opacity":0.3}},"encoding":{"y":{"field":"b","type":"quantitative"},"yError":{"field":"be"}}},
{"mark":{"type":"line","color":"#e8262b","strokeWidth":1.6},"encoding":{"y":{"field":"r","type":"quantitative","axis":{"values":[-50,-25,0,25,50,75,100],"title":null,"labelExpr":"''+datum.value"}}}},
{"mark":{"type":"line","color":"#2f2fe0","strokeWidth":1.6},"encoding":{"y":{"field":"b","type":"quantitative"}}}]},
{"data":{"name":"sig"},"transform":[{"filter":"datum.p=='a3'"}],"mark":{"type":"rect","color":"#666666"},"encoding":{"x":{"field":"t","type":"quantitative"},"x2":{"field":"t2"},"y":{"field":"v","type":"quantitative"},"y2":{"field":"v2"}}}]},
{"width":216,"height":193,"layer":[
{"data":{"name":"d"},"transform":[{"filter":"datum.p=='b3'"}],"encoding":{"x":{"field":"t","type":"quantitative","scale":{"domain":[-0.52,1.5],"nice":false,"zero":false},"axis":{"values":[0,0.5,1,1.5],"title":null,"labels":false}}},"layer":[
{"mark":{"type":"errorband","color":"#e8262b","band":{"opacity":0.3}},"encoding":{"y":{"field":"r","type":"quantitative","scale":{"domain":[-61.5,100],"nice":false,"zero":false}},"yError":{"field":"re"}}},
{"mark":{"type":"errorband","color":"#2f2fe0","band":{"opacity":0.3}},"encoding":{"y":{"field":"b","type":"quantitative"},"yError":{"field":"be"}}},
{"mark":{"type":"line","color":"#e8262b","strokeWidth":1.6},"encoding":{"y":{"field":"r","type":"quantitative","axis":{"values":[-50,-25,0,25,50,75,100],"title":null,"labels":false}}}},
{"mark":{"type":"line","color":"#2f2fe0","strokeWidth":1.6},"encoding":{"y":{"field":"b","type":"quantitative"}}}]}]},
{"width":216,"height":193,"layer":[
{"data":{"name":"d"},"transform":[{"filter":"datum.p=='c3'"}],"encoding":{"x":{"field":"t","type":"quantitative","scale":{"domain":[-0.52,1.5],"nice":false,"zero":false},"axis":{"values":[0,0.5,1,1.5],"title":null,"labels":false}}},"layer":[
{"mark":{"type":"errorband","color":"#e8262b","band":{"opacity":0.3}},"encoding":{"y":{"field":"r","type":"quantitative","scale":{"domain":[-61.5,100],"nice":false,"zero":false}},"yError":{"field":"re"}}},
{"mark":{"type":"errorband","color":"#2f2fe0","band":{"opacity":0.3}},"encoding":{"y":{"field":"b","type":"quantitative"},"yError":{"field":"be"}}},
{"mark":{"type":"line","color":"#e8262b","strokeWidth":1.6},"encoding":{"y":{"field":"r","type":"quantitative","axis":{"values":[-50,-25,0,25,50,75,100],"title":null,"labels":false}}}},
{"mark":{"type":"line","color":"#2f2fe0","strokeWidth":1.6},"encoding":{"y":{"field":"b","type":"quantitative"}}}]}]},
{"width":81,"height":193,"data":{"name":"lab"},"transform":[{"filter":"datum.r==4"}],"layer":[
{"mark":{"type":"rect","color":"#f9f97a"},"encoding":{"x":{"datum":0,"type":"quantitative","scale":{"domain":[0,81],"nice":false,"zero":false},"axis":null},"x2":{"datum":65},"y":{"datum":-43.5,"type":"quantitative","scale":{"domain":[-61.5,100],"nice":false,"zero":false},"axis":null},"y2":{"datum":85.8}}},
{"mark":{"type":"text","angle":270,"fontSize":23,"align":"center","baseline":"middle","color":"#000"},"encoding":{"x":{"datum":26,"type":"quantitative","axis":null},"y":{"datum":21,"type":"quantitative","axis":null},"text":{"field":"n"}}},
{"mark":{"type":"text","angle":270,"fontSize":23,"align":"center","baseline":"middle","color":"#000"},"encoding":{"x":{"datum":50,"type":"quantitative","axis":null},"y":{"datum":21,"type":"quantitative","axis":null},"text":{"field":"g"}}}]},
{"width":216,"height":193,"layer":[
{"data":{"name":"d"},"transform":[{"filter":"datum.p=='a4'"}],"encoding":{"x":{"field":"t","type":"quantitative","scale":{"domain":[-0.52,1.5],"nice":false,"zero":false},"axis":{"values":[0,0.5,1,1.5],"title":"Time (s)","labelExpr":"''+datum.value"}}},"layer":[
{"mark":{"type":"errorband","color":"#e8262b","band":{"opacity":0.3}},"encoding":{"y":{"field":"r","type":"quantitative","scale":{"domain":[-61.5,100],"nice":false,"zero":false}},"yError":{"field":"re"}}},
{"mark":{"type":"errorband","color":"#2f2fe0","band":{"opacity":0.3}},"encoding":{"y":{"field":"b","type":"quantitative"},"yError":{"field":"be"}}},
{"mark":{"type":"line","color":"#e8262b","strokeWidth":1.6},"encoding":{"y":{"field":"r","type":"quantitative","axis":{"values":[-50,-25,0,25,50,75,100],"title":null,"labelExpr":"''+datum.value"}}}},
{"mark":{"type":"line","color":"#2f2fe0","strokeWidth":1.6},"encoding":{"y":{"field":"b","type":"quantitative"}}}]},
{"data":{"name":"ann"},"transform":[{"filter":"datum.p=='a4' && datum.k=='I'"}],"mark":{"type":"text","align":"center","baseline":"middle","fontSize":14.5,"fontStyle":"italic","color":"#333333"},"encoding":{"x":{"field":"t","type":"quantitative"},"y":{"field":"v","type":"quantitative"},"text":{"field":"txt"}}}]},
{"width":216,"height":193,"layer":[
{"data":{"name":"d"},"transform":[{"filter":"datum.p=='b4'"}],"encoding":{"x":{"field":"t","type":"quantitative","scale":{"domain":[-0.52,1.5],"nice":false,"zero":false},"axis":{"values":[0,0.5,1,1.5],"title":"Time (s)","labelExpr":"''+datum.value"}}},"layer":[
{"mark":{"type":"errorband","color":"#e8262b","band":{"opacity":0.3}},"encoding":{"y":{"field":"r","type":"quantitative","scale":{"domain":[-61.5,100],"nice":false,"zero":false}},"yError":{"field":"re"}}},
{"mark":{"type":"errorband","color":"#2f2fe0","band":{"opacity":0.3}},"encoding":{"y":{"field":"b","type":"quantitative"},"yError":{"field":"be"}}},
{"mark":{"type":"line","color":"#e8262b","strokeWidth":1.6},"encoding":{"y":{"field":"r","type":"quantitative","axis":{"values":[-50,-25,0,25,50,75,100],"title":null,"labels":false}}}},
{"mark":{"type":"line","color":"#2f2fe0","strokeWidth":1.6},"encoding":{"y":{"field":"b","type":"quantitative"}}}]}]},
{"width":216,"height":193,"layer":[
{"data":{"name":"d"},"transform":[{"filter":"datum.p=='c4'"}],"encoding":{"x":{"field":"t","type":"quantitative","scale":{"domain":[-0.52,1.5],"nice":false,"zero":false},"axis":{"values":[0,0.5,1,1.5],"title":"Time (s)","labelExpr":"''+datum.value"}}},"layer":[
{"mark":{"type":"errorband","color":"#e8262b","band":{"opacity":0.3}},"encoding":{"y":{"field":"r","type":"quantitative","scale":{"domain":[-61.5,100],"nice":false,"zero":false}},"yError":{"field":"re"}}},
{"mark":{"type":"errorband","color":"#2f2fe0","band":{"opacity":0.3}},"encoding":{"y":{"field":"b","type":"quantitative"},"yError":{"field":"be"}}},
{"mark":{"type":"line","color":"#e8262b","strokeWidth":1.6},"encoding":{"y":{"field":"r","type":"quantitative","axis":{"values":[-50,-25,0,25,50,75,100],"title":null,"labels":false}}}},
{"mark":{"type":"line","color":"#2f2fe0","strokeWidth":1.6},"encoding":{"y":{"field":"b","type":"quantitative"}}}]}]}
]
}
